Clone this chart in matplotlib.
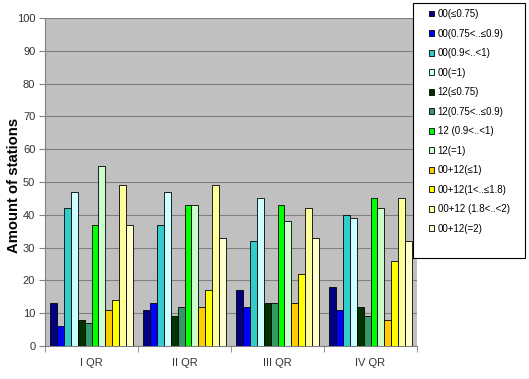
import numpy as np
import matplotlib
matplotlib.use("Agg")
import matplotlib.pyplot as plt
from matplotlib.patches import Rectangle

plt.rcParams['font.family'] = ['Liberation Sans', 'DejaVu Sans']

categories = ['I QR', 'II QR', 'III QR', 'IV QR']
series_names = [
    '00(≤0.75)', '00(0.75<..≤0.9)', '00(0.9<..<1)', '00(=1)',
    '12(≤0.75)', '12(0.75<..≤0.9)', '12 (0.9<..<1)', '12(=1)',
    '00+12(≤1)', '00+12(1<..≤1.8)', '00+12 (1.8<..<2)', '00+12(=2)',
]
# one row per series, one column per category
values = [
    [13, 11, 17, 18],
    [6, 13, 12, 11],
    [42, 37, 32, 40],
    [47, 47, 45, 39],
    [8, 9, 13, 12],
    [7, 12, 13, 9],
    [37, 43, 43, 45],
    [55, 43, 38, 42],
    [11, 12, 13, 8],
    [14, 17, 22, 26],
    [49, 49, 42, 45],
    [37, 33, 33, 32],
]
colors = ['#000080', '#0000FF', '#33CCCC', '#CCFFFF',
          '#003300', '#339966', '#00FF00', '#CCFFCC',
          '#FFCC00', '#FFFF00', '#FFFF99', '#FFFFCC']

W, H = 529, 379
fig = plt.figure(figsize=(W / 100, H / 100), dpi=100)
ax = fig.add_axes([45 / W, 1 - 346 / H, 372 / W, 328 / H])
ax.set_facecolor('#C0C0C0')

n = len(series_names)
bar_w = 1.0 / (n + 1.5)
x = np.arange(len(categories))
for i, (name, vals, col) in enumerate(zip(series_names, values, colors)):
    offs = (i - (n - 1) / 2) * bar_w
    ax.bar(x + offs, vals, width=bar_w, color=col, edgecolor='black',
           linewidth=0.6, label=name, zorder=3)

ax.set_xlim(-0.5, len(categories) - 0.5)
ax.set_ylim(0, 100)
ax.set_yticks(range(0, 101, 10))
ax.yaxis.grid(True, color='#808080', linewidth=0.8, zorder=0)
ax.set_xticks(x)
ax.set_xticklabels(categories)
ax.set_xticks(np.arange(-0.5, len(categories)), minor=True)
ax.tick_params(axis='x', which='major', length=0, labelsize=8, pad=9,
               labelcolor='#333333')
ax.tick_params(axis='x', which='minor', length=4, color='#808080')
ax.tick_params(axis='y', length=4, color='#808080', labelsize=8, pad=3,
               labelcolor='#333333')
for s in ['top', 'right']:
    ax.spines[s].set_visible(False)
for s in ['left', 'bottom']:
    ax.spines[s].set_color('#808080')
ax.set_ylabel('Amount of stations', fontsize=10.7, fontweight='bold')
ax.yaxis.set_label_coords(-24 / 372, 0.49)

# legend box drawn separately so its size matches the reference
fig.patches.append(Rectangle((413 / W, 1 - 258 / H), 112 / W, 255 / H,
                             transform=fig.transFigure, facecolor='white',
                             edgecolor='black', linewidth=0.8, zorder=5))
leg = fig.legend(loc='upper left', bbox_to_anchor=(429 / W, 1 - 9 / H),
                 fontsize=7, frameon=False,
                 handlelength=0.55, handleheight=0.55, handletextpad=0.35,
                 labelspacing=0.98, borderpad=0, borderaxespad=0)
leg.set_zorder(6)
for h in leg.legend_handles:
    h.set_linewidth(0.6)

fig.savefig('out.png', dpi=100)
